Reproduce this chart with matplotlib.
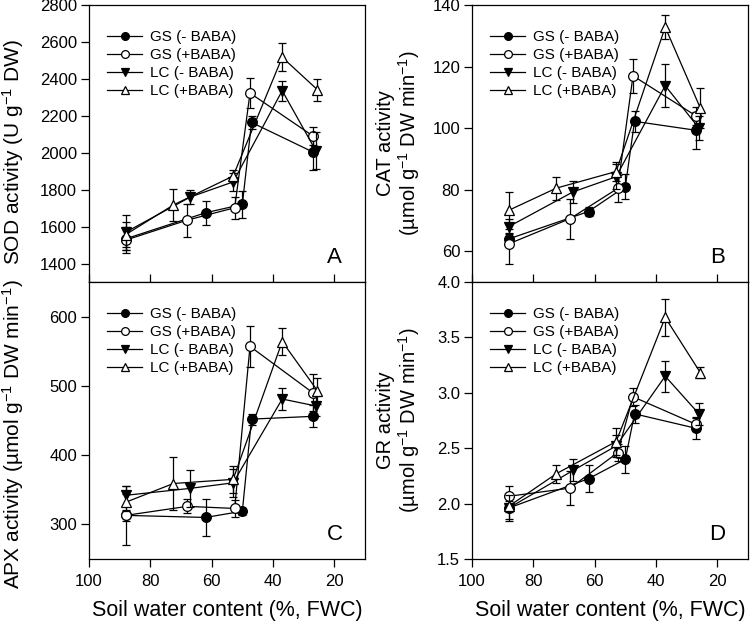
import matplotlib
matplotlib.use("Agg")
import matplotlib.pyplot as plt

plt.rcParams['font.family'] = ['Liberation Sans', 'DejaVu Sans']
plt.rcParams['mathtext.fontset'] = 'custom'
plt.rcParams['mathtext.rm'] = 'Liberation Sans'
plt.rcParams['mathtext.it'] = 'Liberation Sans:italic'
plt.rcParams['mathtext.bf'] = 'Liberation Sans:bold'
plt.rcParams['mathtext.default'] = 'regular'

series_labels = ["GS (- BABA)", "GS (+BABA)", "LC (- BABA)", "LC (+BABA)"]

# soil water content (%, FWC) for each series
x_gs_minus = [88, 62, 50, 47, 27]
x_gs_plus = [88, 68, 52.5, 47.5, 27]
x_lc_minus = [88, 67, 53, 37, 26]
x_lc_plus = [88, 72.5, 53, 37, 25.5]

# SOD (panel A)
sod_gs_minus = [1534, 1675, 1720, 2164, 2004]
sod_gs_minus_err = [60, 65, 75, 33, 100]
sod_gs_plus = [1527, 1635, 1702, 2323, 2091]
sod_gs_plus_err = [70, 89, 60, 80, 50]
sod_lc_minus = [1570, 1760, 1842, 2336, 2010]
sod_lc_minus_err = [95, 40, 50, 55, 100]
sod_lc_plus = [1557, 1717, 1874, 2517, 2341]
sod_lc_plus_err = [70, 85, 35, 75, 60]

# CAT (panel B)
cat_gs_minus = [64, 72.9, 81, 102.2, 99.3]
cat_gs_minus_err = [2, 1.5, 4, 3.5, 6]
cat_gs_plus = [62.4, 70.6, 80.4, 117, 104]
cat_gs_plus_err = [6.5, 6.5, 4.5, 5.5, 3]
cat_lc_minus = [68, 79.3, 84.2, 113.8, 100]
cat_lc_minus_err = [2.5, 3.5, 4, 7, 4]
cat_lc_plus = [73.3, 80.5, 85.9, 132.8, 106.4]
cat_lc_plus_err = [6, 3.7, 3, 4, 6.5]

# APX (panel C)
apx_gs_minus = [313, 310, 319, 452, 456]
apx_gs_minus_err = [8, 27, 5, 8, 16]
apx_gs_plus = [313, 326, 323, 557, 490]
apx_gs_plus_err = [43, 10, 12, 30, 27]
apx_lc_minus = [342, 352, 360, 481, 471]
apx_lc_minus_err = [14, 27, 20, 16, 15]
apx_lc_plus = [332, 359, 365, 564, 493]
apx_lc_plus_err = [12, 38, 20, 20, 19]

# GR (panel D)
gr_gs_minus = [1.96, 2.225, 2.40, 2.81, 2.68]
gr_gs_minus_err = [0.1, 0.12, 0.12, 0.08, 0.1]
gr_gs_plus = [2.066, 2.14, 2.46, 2.964, 2.716]
gr_gs_plus_err = [0.09, 0.15, 0.08, 0.08, 0.06]
gr_lc_minus = [1.96, 2.30, 2.52, 3.15, 2.81]
gr_lc_minus_err = [0.12, 0.1, 0.1, 0.14, 0.1]
gr_lc_plus = [1.976, 2.27, 2.56, 3.68, 3.18]
gr_lc_plus_err = [0.05, 0.08, 0.12, 0.17, 0.05]

xs = [x_gs_minus, x_gs_plus, x_lc_minus, x_lc_plus]
styles = [dict(marker='o', mfc='black'), dict(marker='o', mfc='white'),
          dict(marker='v', mfc='black'), dict(marker='^', mfc='white')]

fig = plt.figure(figsize=(7.5, 6.27), dpi=100)
W, H = 750, 627
def rect(l, t, r, b):
    return [l / W, 1 - b / H, (r - l) / W, (b - t) / H]

axA = fig.add_axes(rect(89, 5, 365, 282))
axC = fig.add_axes(rect(89, 282, 365, 559))
axB = fig.add_axes(rect(472, 5, 748, 282))
axD = fig.add_axes(rect(472, 282, 748, 559))

panels = [
    (axA, [sod_gs_minus, sod_gs_plus, sod_lc_minus, sod_lc_plus],
     [sod_gs_minus_err, sod_gs_plus_err, sod_lc_minus_err, sod_lc_plus_err],
     (1300, 2800), list(range(1400, 2801, 200)), 'A', True),
    (axB, [cat_gs_minus, cat_gs_plus, cat_lc_minus, cat_lc_plus],
     [cat_gs_minus_err, cat_gs_plus_err, cat_lc_minus_err, cat_lc_plus_err],
     (50, 140), [60, 80, 100, 120, 140], 'B', True),
    (axC, [apx_gs_minus, apx_gs_plus, apx_lc_minus, apx_lc_plus],
     [apx_gs_minus_err, apx_gs_plus_err, apx_lc_minus_err, apx_lc_plus_err],
     (250, 650), [300, 400, 500, 600], 'C', False),
    (axD, [gr_gs_minus, gr_gs_plus, gr_lc_minus, gr_lc_plus],
     [gr_gs_minus_err, gr_gs_plus_err, gr_lc_minus_err, gr_lc_plus_err],
     (1.5, 4.0), [1.5, 2.0, 2.5, 3.0, 3.5, 4.0], 'D', False),
]

for ax, ys, errs, ylim, yticks, letter, top in panels:
    for i, (x, y, e, st, lab) in enumerate(zip(xs, ys, errs, styles, series_labels)):
        ax.errorbar(x, y, yerr=e, fmt='none', ecolor='black', elinewidth=0.9,
                    capsize=3.2, capthick=0.9, zorder=2 + i * 0.1)
        ax.plot(x, y, color='black', lw=0.9, marker=st['marker'],
                mfc=st['mfc'], mec='black', mew=0.9, ms=7, label=lab,
                zorder=2.05 + i * 0.1)
    ax.set_xlim(100, 10)
    ax.set_ylim(*ylim)
    ax.set_yticks(yticks)
    if ax is axD:
        ax.set_yticklabels(['%.1f' % v for v in yticks])
    ax.set_xticks([100, 80, 60, 40, 20])
    for s in ax.spines.values():
        s.set_linewidth(0.9)
    ax.tick_params(axis='y', direction='out', length=5.5, width=0.9, labelsize=12, pad=3)
    if top:
        ax.tick_params(axis='x', direction='in', length=5.5, width=0.9, labelbottom=False)
    else:
        ax.tick_params(axis='x', direction='out', length=5.5, width=0.9, labelsize=12, pad=5)
        ax.set_xlabel('Soil water content (%, FWC)', fontsize=15.5, labelpad=8)
    ax.text(0.89, 0.05, letter, transform=ax.transAxes, fontsize=16,
            ha='center', va='bottom')
    ax.legend(loc='upper left', bbox_to_anchor=(0.065, 0.91), frameon=False,
              fontsize=11, handlelength=2.3, handletextpad=0.5,
              labelspacing=0.27, borderaxespad=0, borderpad=0, markerscale=0.8)

axA.set_ylabel('SOD activity (U g$^{-1}$ DW)', fontsize=15)
axA.yaxis.set_label_coords(-0.228, 0.47)
axC.set_ylabel('APX activity (µmol g$^{-1}$ DW min$^{-1}$)', fontsize=15)
axC.yaxis.set_label_coords(-0.228, 0.45)
axB.set_ylabel('CAT activity\n(µmol g$^{-1}$ DW min$^{-1}$)', fontsize=14.5,
               linespacing=1.05)
axB.yaxis.set_label_coords(-0.18, 0.5)
axD.set_ylabel('GR activity\n(µmol g$^{-1}$ DW min$^{-1}$)', fontsize=14.5,
               linespacing=1.05)
axD.yaxis.set_label_coords(-0.18, 0.5)

fig.savefig('out.png', dpi=100)
